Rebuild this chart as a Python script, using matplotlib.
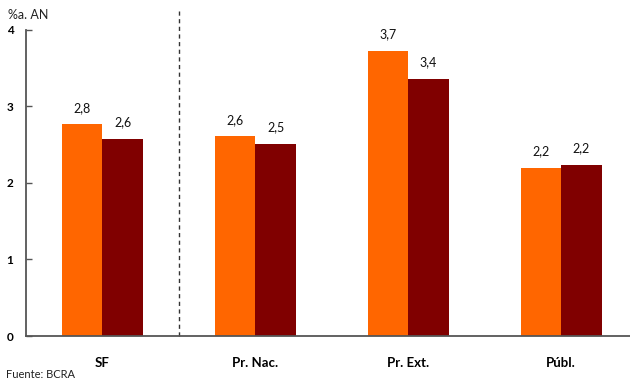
import numpy as np
from matplotlib import pyplot as plt

plt.rcParams['font.family'] = ['Lato', 'DejaVu Sans']

# Data
categories = ['SF', 'Pr. Nac.', 'Pr. Ext.', 'Públ.']
serie_a = [2.77, 2.61, 3.73, 2.20]   # orange bars
serie_b = [2.58, 2.51, 3.36, 2.24]   # dark red bars
y_ticks = [0, 1, 2, 3, 4]

COLOR_A = '#FF6600'
COLOR_B = '#800000'


def fmt(v):
    return f'{v:.1f}'.replace('.', ',')


fig = plt.figure(figsize=(6.3, 3.81), dpi=100)
ax = fig.add_axes([0.0413, 0.1181, 0.9587, 0.8032])

x = np.arange(len(categories))
width = 0.265
bars_a = ax.bar(x - width / 2, serie_a, width, color=COLOR_A)
bars_b = ax.bar(x + width / 2, serie_b, width, color=COLOR_B)

# value labels above each bar
for bars, vals in [(bars_a, serie_a), (bars_b, serie_b)]:
    for b, v in zip(bars, vals):
        ax.annotate(fmt(v), (b.get_x() + b.get_width() / 2, v),
                    xytext=(0, 7.5), textcoords='offset points',
                    ha='center', va='bottom', fontsize=9, color='#111111')

# dashed separator between SF and the rest
ax.plot([0.5, 0.5], [0, 4.27], ls=(0, (3, 2.5)), color='#333333', lw=1.0,
        clip_on=False)

ax.set_xlim(-0.5, 3.45)
ax.set_ylim(0, 4)
ax.set_yticks(y_ticks)
ax.set_yticklabels([str(t) for t in y_ticks], fontweight='bold', fontsize=8.5)
ax.set_xticks(x)
ax.set_xticklabels(categories, fontweight='bold', fontsize=9.5)

ax.tick_params(axis='x', length=0, pad=15)
ax.tick_params(axis='y', direction='in', length=4, width=1, color='#555555',
               pad=14)
for lbl in ax.get_yticklabels():
    lbl.set_horizontalalignment('left')

for side in ['top', 'right']:
    ax.spines[side].set_visible(False)
for side in ['left', 'bottom']:
    ax.spines[side].set_color('#555555')
    ax.spines[side].set_linewidth(1.3)

fig.text(8 / 630, 1 - 15 / 381, '%a. AN', fontsize=9, va='center',
         color='#222222')
fig.text(6 / 630, 1 - 375 / 381, 'Fuente: BCRA', fontsize=8, va='center',
         color='#222222')

fig.savefig('out.png', dpi=100)
